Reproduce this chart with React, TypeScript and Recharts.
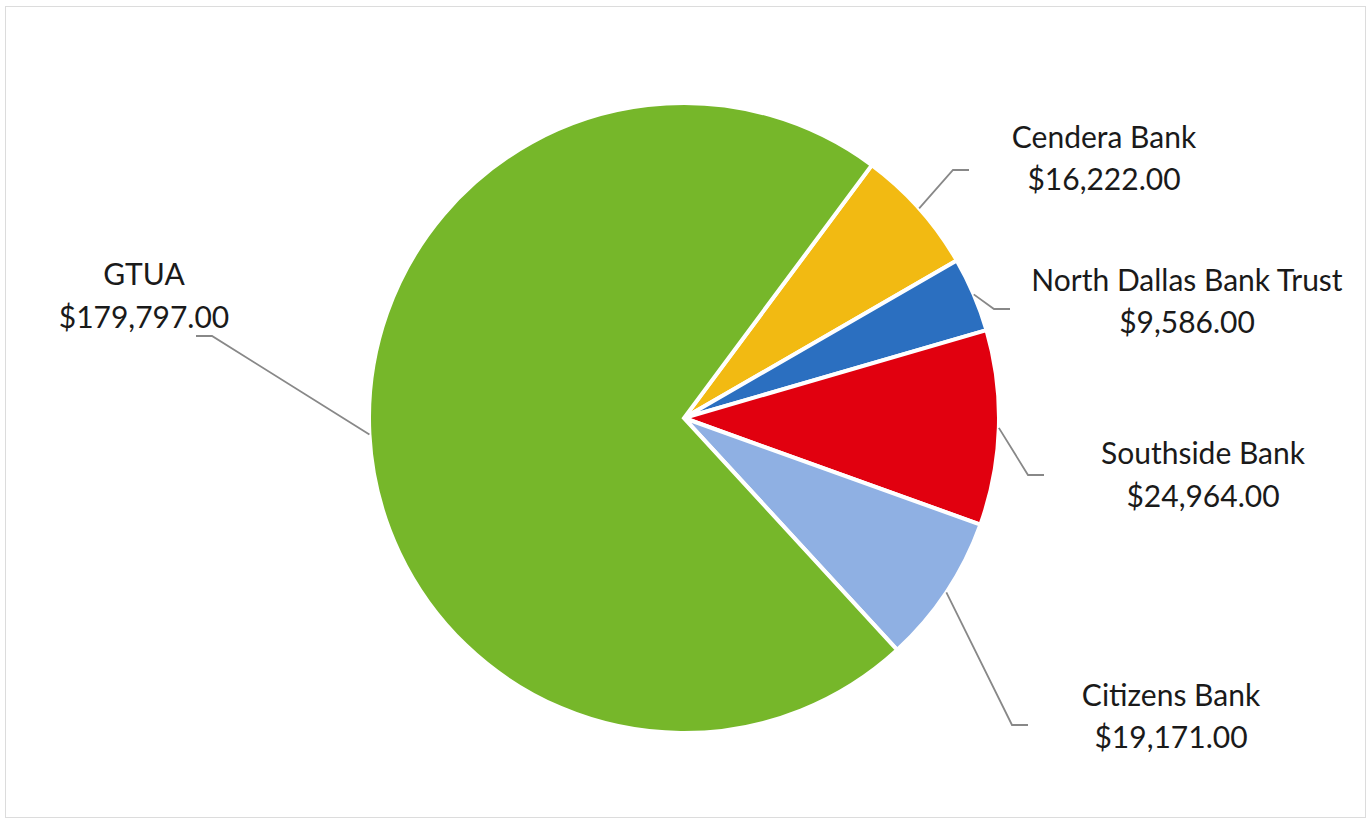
import React from "react";
import { PieChart, Pie, Cell } from "recharts";

const banks = ["Cendera Bank", "North Dallas Bank Trust", "Southside Bank", "Citizens Bank", "GTUA"];
const amounts = [16222, 9586, 24964, 19171, 179797];
const colors = ["#F2BA12", "#2B6FC0", "#E1000F", "#8FB0E3", "#76B72A"];

// label layout, relative to pie centre: elbow of leader line, text centre x, baselines
const labelLayout = [
  { ex: 269, ey: -248, dir: 1, tx: 420, y1: -270, y2: -228 },
  { ex: 310, ey: -109, dir: 1, tx: 503, y1: -127, y2: -85 },
  { ex: 344, ey: 57, dir: 1, tx: 519, y1: 46, y2: 89 },
  { ex: 328, ey: 307, dir: 1, tx: 487, y1: 288, y2: 330 },
  { ex: -472, ey: -82, dir: -1, tx: -540, y1: -133, y2: -90 },
];

const data = banks.map((name, i) => ({ name, value: amounts[i] }));

const fmt = (v: number) =>
  "$" + v.toLocaleString("en-US", { minimumFractionDigits: 2, maximumFractionDigits: 2 });

const RAD = Math.PI / 180;

function renderLabel(props: any) {
  const { cx, cy, midAngle, outerRadius, index } = props;
  const l = labelLayout[index];
  const sx = cx + outerRadius * Math.cos(-midAngle * RAD);
  const sy = cy + outerRadius * Math.sin(-midAngle * RAD);
  const ex = cx + l.ex;
  const ey = cy + l.ey;
  const hx = ex + l.dir * 16;
  return (
    <g key={`lbl-${index}`}>
      <polyline
        points={`${sx},${sy} ${ex},${ey} ${hx},${ey}`}
        fill="none"
        stroke="#888888"
        strokeWidth={1.8}
      />
      <text
        x={cx + l.tx}
        y={cy + l.y1}
        textAnchor="middle"
        fill="#1a1a1a"
        fontSize={30}
        fontFamily="Lato, 'Open Sans', sans-serif"
      >
        {banks[index]}
      </text>
      <text
        x={cx + l.tx}
        y={cy + l.y2}
        textAnchor="middle"
        fill="#1a1a1a"
        fontSize={30}
        fontFamily="Lato, 'Open Sans', sans-serif"
      >
        {fmt(amounts[index])}
      </text>
    </g>
  );
}

export default function App() {
  return (
    <div
      style={{
        position: "absolute",
        left: 5,
        top: 6,
        width: 1359,
        height: 810,
        border: "1px solid #dcdcdc",
        background: "#fff",
      }}
    >
      <PieChart width={1359} height={810} margin={{ top: 0, right: 0, bottom: 0, left: 0 }}>
        <Pie
          data={data}
          dataKey="value"
          nameKey="name"
          cx={678}
          cy={411}
          outerRadius={315}
          startAngle={53.4}
          endAngle={-306.6}
          stroke="#ffffff"
          strokeWidth={4}
          label={renderLabel}
          labelLine={false}
          isAnimationActive={false}
        >
          {data.map((d, i) => (
            <Cell key={d.name} fill={colors[i]} />
          ))}
        </Pie>
      </PieChart>
    </div>
  );
}
